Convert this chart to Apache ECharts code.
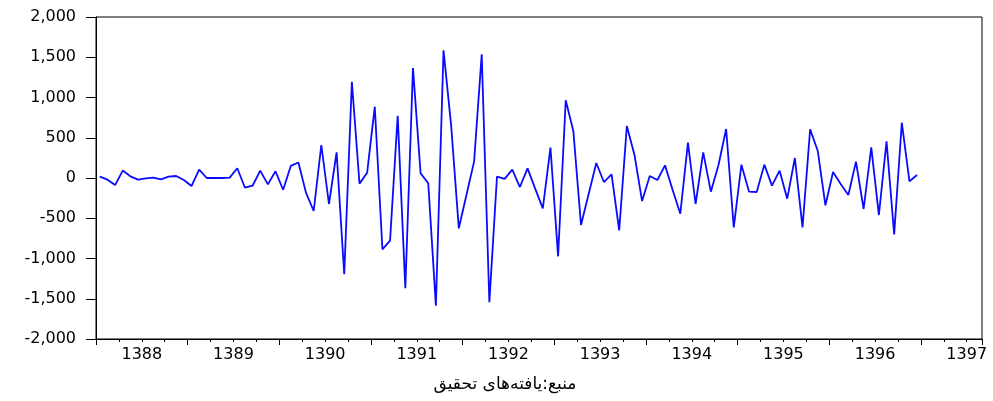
<!DOCTYPE html>
<html>
<head>
<meta charset="utf-8">
<script src="https://cdn.jsdelivr.net/npm/echarts@6/dist/echarts.min.js"></script>
<style>
  html, body { margin: 0; padding: 0; background: #fff; }
  #chart { width: 993px; height: 401px; }
</style>
</head>
<body>
<div id="chart"></div>
<script>
// year labels (Persian calendar), one per 12 months
var years = ['1388', '1389', '1390', '1391', '1392', '1393', '1394', '1395', '1396', '1397'];

// monthly values, 1388M01 .. 1396M12
var values = [
  17, -21, -88, 92, 21, -21, -4, 4, -17, 17, 25, -25,
  -100, 104, 0, 0, 0, 4, 121, -121, -96, 92, -79, 83,
  -146, 150, 192, -185, -410, 410, -323, 319, -1196, 1196, -70, 66,
  886, -886, -778, 774, -1370, 1366, 58, -66, -1586, 1586, 650, -625,
  -211, 203, 1536, -1544, 17, -10, 104, -112, 120, -132, -377, 377,
  -973, 965, 580, -584, -199, 186, -50, 46, -650, 646, 286, -286,
  25, -25, 157, -150, -443, 439, -323, 319, -170, 161, 609, -613,
  166, -170, -174, 166, -95, 91, -257, 248, -613, 604, 335, -339,
  75, -75, -211, 203, -385, 381, -460, 455, -700, 687, -41, 37
];

var yTicks = { min: -2000, max: 2000, step: 500 };
var monthsOnAxis = 116;
var caption = 'منبع:یافته‌های تحقیق';

var seriesData = [];
values.forEach(function (v, i) {
  seriesData.push([i + 0.5, v]);
});

var chart = echarts.init(document.getElementById('chart'));

var option = {
  animation: false,
  title: {
    text: caption,
    left: 500,
    top: 371,
    textAlign: 'center',
    textStyle: {
      fontFamily: 'DejaVu Sans',
      fontSize: 17,
      fontWeight: 'normal',
      color: '#000'
    }
  },
  grid: {
    left: 96,
    top: 17,
    right: 11,
    bottom: 62,
    show: true,
    borderColor: '#000',
    borderWidth: 1
  },
  xAxis: [
    {
      // yearly (long) ticks
      type: 'value',
      min: 0,
      max: monthsOnAxis,
      interval: 12,
      position: 'bottom',
      axisLine: { show: true, onZero: false, lineStyle: { color: '#000', width: 1 } },
      axisTick: { show: true, length: 6, lineStyle: { color: '#000' } },
      axisLabel: { show: false },
      splitLine: { show: false }
    },
    {
      // quarterly ticks + year labels in middle of each year
      type: 'value',
      min: 0,
      max: monthsOnAxis,
      interval: 3,
      position: 'bottom',
      axisLine: { show: false, onZero: false },
      axisTick: { show: true, length: 3, lineStyle: { color: '#000' } },
      axisLabel: {
        show: true,
        margin: 8,
        color: '#000',
        fontFamily: 'DejaVu Sans',
        fontSize: 16,
        hideOverlap: false,
        showMinLabel: true,
        showMaxLabel: false,
        formatter: function (v) {
          if (v % 12 === 6) return years[(v - 6) / 12] || '';
          return '';
        }
      },
      splitLine: { show: false }
    }
  ],
  yAxis: {
    type: 'value',
    min: yTicks.min,
    max: yTicks.max,
    interval: yTicks.step,
    axisLine: { show: true, onZero: false, lineStyle: { color: '#000', width: 1 } },
    axisTick: { show: true, length: 10, lineStyle: { color: '#000' } },
    axisLabel: {
      margin: 20,
      color: '#000',
      fontFamily: 'DejaVu Sans',
      fontSize: 16,
      formatter: function (v) {
        return v.toLocaleString('en-US');
      }
    },
    splitLine: { show: false }
  },
  series: [
    {
      type: 'line',
      xAxisIndex: 0,
      data: seriesData,
      symbol: 'none',
      lineStyle: { color: '#0a0aff', width: 1.8 },
      z: 3
    }
  ]
};

chart.setOption(option);
window.addEventListener('resize', () => chart.resize(), false);
</script>
</body>
</html>
